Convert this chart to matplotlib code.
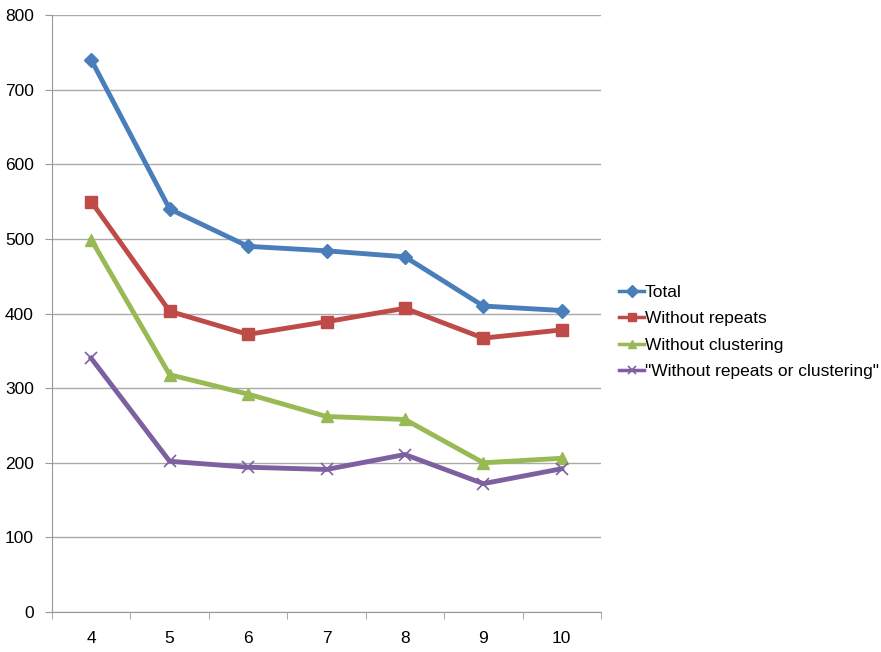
import numpy as np
import matplotlib
matplotlib.use('Agg')
from matplotlib import pyplot as plt

plt.rcParams['font.family'] = ['Liberation Sans', 'DejaVu Sans']

categories = ['4', '5', '6', '7', '8', '9', '10']
total = [740, 540, 490, 484, 476, 410, 404]
no_repeats = [550, 403, 372, 389, 407, 367, 378]
no_clustering = [499, 318, 292, 262, 258, 200, 206]
no_both = [340, 202, 194, 191, 211, 172, 192]

fig = plt.figure(figsize=(8.81, 6.52), dpi=100)
ax = fig.add_axes([52/881, 40/652, 549/881, 597/652])

x = np.arange(len(categories))
ax.plot(x, total, color='#4a7ebb', lw=3.5, marker='D', ms=7, label='Total')
ax.plot(x, no_repeats, color='#be4b48', lw=3.5, marker='s', ms=8, label='Without repeats')
ax.plot(x, no_clustering, color='#98b954', lw=3.5, marker='^', ms=9, label='Without clustering')
ax.plot(x, no_both, color='#7d60a0', lw=3.5, marker='x', ms=8, mew=1.2,
        label='"Without repeats or clustering"')

ax.set_xlim(-0.5, len(categories) - 0.5)
ax.set_ylim(0, 800)
ax.set_yticks(range(0, 801, 100))
ax.set_xticks(x)
ax.set_xticklabels(categories)
ax.set_xticks(np.arange(-0.5, len(categories), 1), minor=True)
ax.tick_params(axis='x', which='major', length=0, pad=14, labelsize=12.5)
ax.tick_params(axis='x', which='minor', length=5, color='#999999')
ax.tick_params(axis='y', length=5, color='#999999', labelsize=12.5, pad=8)
ax.grid(axis='y', color='#aaaaaa', lw=1)
ax.set_axisbelow(True)
for s in ['top', 'right']:
    ax.spines[s].set_visible(False)
for s in ['left', 'bottom']:
    ax.spines[s].set_color('#999999')

leg = fig.legend(loc='center left', bbox_to_anchor=(619/881, 1 - 332/652), frameon=False,
                 fontsize=12.5, handlelength=1.45, handletextpad=0.05, labelspacing=0.66,
                 borderaxespad=0, borderpad=0)
for h in leg.get_lines():
    h.set_linewidth(2.5)
    h.set_markersize(6)

fig.savefig('out.png', dpi=100)
